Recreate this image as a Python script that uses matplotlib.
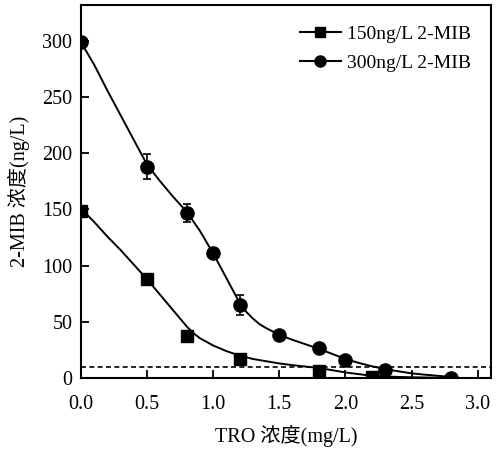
import matplotlib
matplotlib.use('Agg')
import matplotlib.pyplot as plt

plt.rcParams['font.family'] = ['Liberation Serif', 'Noto Sans CJK SC']

# Datos medidos (puntos)
x_150 = [0.0, 0.5, 0.8, 1.2, 1.8, 2.2]
y_150 = [149, 88, 37, 17, 6, 1]
err_150 = [2, 3, 2, 2, 1, 1]

x_300 = [0.0, 0.5, 0.8, 1.0, 1.2, 1.5, 1.8, 2.0, 2.3, 2.8]
y_300 = [299, 188, 147, 111, 65, 38, 27, 16, 7, 0]
err_300 = [2, 11, 8, 3, 9, 3, 2, 2, 2, 1]

# Curvas ajustadas
fit_x_150 = [0.0, 0.05, 0.1, 0.2, 0.3, 0.4, 0.5, 0.6, 0.7, 0.75, 0.8, 0.85, 0.9, 1.0,
             1.1, 1.2, 1.3, 1.4, 1.5, 1.6, 1.7, 1.8, 1.9, 2.0, 2.1, 2.2, 2.3, 2.4,
             2.5, 2.6, 2.7, 2.8]
fit_y_150 = [149, 145, 139, 126, 114, 101, 88, 74, 60, 53, 46, 40, 35.5, 29,
             24, 20, 17, 15, 13, 11.5, 10.2, 9, 7, 5, 3.5, 2, 1.4, 1.0,
             0.7, 0.5, 0.3, 0]

fit_x_300 = [0.0, 0.1, 0.2, 0.3, 0.4, 0.5, 0.6, 0.7, 0.8, 0.9, 1.0, 1.05, 1.1, 1.15,
             1.2, 1.25, 1.3, 1.35, 1.4, 1.5, 1.6, 1.7, 1.8, 1.9, 2.0, 2.1, 2.2,
             2.3, 2.4, 2.5, 2.6, 2.7, 2.8]
fit_y_300 = [299, 279, 256, 234, 212, 190, 175, 161, 148, 131, 111, 100, 89, 78,
             67, 59, 53, 48, 44.5, 38.5, 34, 30, 26, 21.5, 17, 13.5, 10.5,
             8, 6, 4.2, 3, 2, 1]

threshold = 10

fig = plt.figure(figsize=(5.02, 4.49), dpi=100)
ax = fig.add_axes([0.161, 0.158, 0.817, 0.831])

ax.plot(fit_x_150, fit_y_150, color='black', lw=1.4)
ax.plot(fit_x_300, fit_y_300, color='black', lw=1.4)
ax.errorbar(x_150, y_150, yerr=err_150, fmt='s', color='black', ms=8.5,
            capsize=3, elinewidth=1.2, capthick=1.2)
ax.errorbar(x_300, y_300, yerr=err_300, fmt='o', color='black', ms=9.5,
            capsize=3, elinewidth=1.2, capthick=1.2)
ax.axhline(threshold, color='black', lw=1.2, ls=(0, (3, 2)))

# Leyenda
h1, = ax.plot([], [], color='black', lw=1.5, marker='s', ms=7, label='150ng/L 2-MIB')
h2, = ax.plot([], [], color='black', lw=1.5, marker='o', ms=8, label='300ng/L 2-MIB')
ax.legend(handles=[h1, h2], loc='upper right', frameon=False, fontsize=14,
          handlelength=2.1, handletextpad=0.3, borderaxespad=0.65, labelspacing=0.6)

ax.set_xlim(0, 3.1)
ax.set_ylim(0, 332)
ax.set_xticks([0.0, 0.5, 1.0, 1.5, 2.0, 2.5, 3.0])
ax.set_yticks([0, 50, 100, 150, 200, 250, 300])
ax.tick_params(direction='in', length=6, width=1.3, labelsize=14.5)
ax.tick_params(axis='x', pad=12)
ax.tick_params(axis='y', pad=6)
for s in ax.spines.values():
    s.set_linewidth(1.5)

ax.set_xlabel('TRO 浓度(mg/L)', fontsize=14.5, labelpad=8)
ax.set_ylabel('2-MIB 浓度(ng/L)', fontsize=14.5, labelpad=9)

fig.savefig('out.png', dpi=100)
